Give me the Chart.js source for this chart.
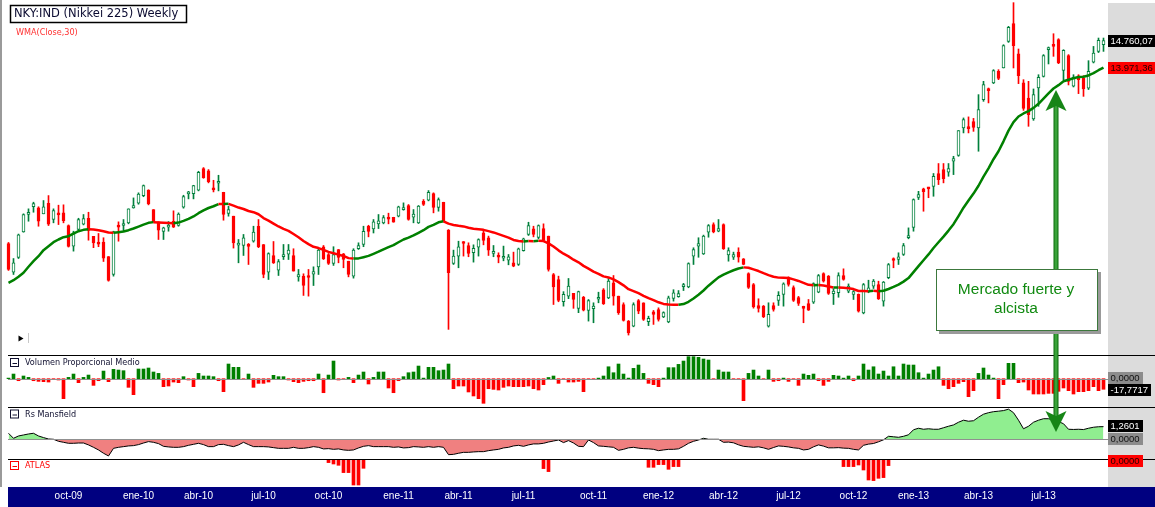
<!DOCTYPE html>
<html>
<head>
<meta charset="utf-8">
<script src="https://cdn.jsdelivr.net/npm/chart.js@4.4.0/dist/chart.umd.min.js"></script>
<style>
  html, body { margin: 0; padding: 0; background: #fff; overflow: hidden; }
  #wrap { position: relative; width: 1155px; height: 507px; }
</style>
</head>
<body>
<div id="wrap"><canvas id="myChart" width="1155" height="507"></canvas></div>
<script>
// Nikkei 225 weekly candles, Jul 2009 - Sep 2013
const opens = [
  9790, 9237, 9515, 10024, 10381, 10545, 10522, 10396, 10621, 10276,
  10409, 10416, 10152, 9738, 10070, 10179, 10303, 9930, 9796, 9816,
  9534, 9194, 10158, 10152, 10208, 10522, 10621, 10787, 10910, 10486,
  10228, 10030, 10118, 10241, 10152, 10536, 10825, 10829, 10904, 11393,
  11339, 10934, 11059, 10860, 10402, 10346, 9756, 9750, 9750, 9835,
  10138, 9770, 9237, 9555, 9276, 9534, 9582, 9555, 9150, 9163,
  9160, 9200, 9338, 9726, 9574, 9401, 9672, 9587, 9445, 9163,
  9686, 9770, 10138, 10084, 10187, 10208, 10317, 10324, 10346, 10486,
  10572, 10324, 10208, 10664, 10686, 10832, 10529, 10643, 10057, 9401,
  9543, 9809, 9750, 9607, 9719, 10003, 9904, 9594, 9555, 9502,
  9464, 9414, 9382, 9646, 9970, 10084, 9910, 10090, 9937, 9194,
  9101, 8700, 8801, 8850, 8585, 8780, 8548, 8578, 8745, 8915,
  8770, 9040, 8800, 8652, 8366, 8280, 8723, 8682, 8355, 8525,
  8565, 8435, 8350, 8760, 8790, 8970, 8965, 9543, 9738, 9587,
  10017, 10172, 10036, 10172, 9565, 9522, 9620, 9489, 9213, 9010,
  8635, 8623, 8282, 8635, 8723, 8830, 9115, 8955, 8775, 8605,
  8670, 8694, 8870, 9213, 9163, 8845, 8860, 9175, 8890, 8830,
  8830, 8505, 8890, 8980, 9010, 8711, 9133, 9489, 9477, 9574,
  9904, 10111, 10745, 10934, 10955, 10990, 11278, 11370, 11308, 11563,
  11700, 12370, 12385, 12530, 12370, 13100, 13385, 13550, 13872, 13967,
  14740, 15277, 14376, 13550, 13144, 12598, 13413, 13732, 14494, 14622,
  14790, 13900, 14320, 13460, 13750, 13687, 13406, 14130, 14444, 14643
];
const highs = [
  9810, 9496, 9978, 10396, 10501, 10643, 10545, 10679, 10787, 10501,
  10579, 10587, 10165, 10036, 10303, 10381, 10429, 9930, 9990, 9904,
  9534, 10036, 10228, 10276, 10501, 10736, 10847, 11021, 10915, 10486,
  10228, 10118, 10234, 10459, 10416, 10794, 10880, 11014, 11331, 11416,
  11370, 11126, 11240, 10860, 10558, 10346, 9869, 9970, 9790, 10138,
  10276, 9770, 9607, 9829, 9477, 9770, 9770, 9686, 9288, 9207,
  9288, 9338, 9686, 9750, 9594, 9726, 9672, 9594, 9445, 9686,
  9803, 10138, 10158, 10276, 10381, 10360, 10409, 10324, 10558, 10629,
  10593, 10486, 10572, 10700, 10897, 10847, 10736, 10643, 10070, 9659,
  9835, 9829, 9803, 9763, 9883, 10057, 9937, 9750, 9607, 9738,
  9574, 9620, 9699, 9896, 10220, 10138, 10165, 10187, 9937, 9213,
  9163, 8880, 9120, 8850, 8890, 8795, 8740, 8682, 8870, 8935,
  9120, 9175, 8800, 8682, 8377, 8682, 8740, 8682, 8450, 8548,
  8594, 8525, 8800, 8915, 8900, 9030, 9414, 9705, 9904, 9957,
  10172, 10208, 10276, 10187, 9705, 9620, 9705, 9496, 9226, 9028,
  8753, 8635, 8682, 8682, 8880, 9040, 9150, 8985, 8795, 8623,
  8740, 9040, 9194, 9226, 9175, 8932, 9226, 9300, 9020, 8900,
  8840, 9028, 9088, 9101, 9070, 9065, 9401, 9509, 9607, 9790,
  10104, 10715, 10880, 10950, 10970, 11280, 11510, 11510, 11510, 11680,
  12303, 12623, 12650, 12612, 13233, 13594, 13412, 13919, 13919, 14641,
  15195, 15942, 14514, 13640, 13594, 13386, 13778, 14350, 14573, 14970,
  14820, 14494, 14350, 13778, 13778, 13750, 14175, 14590, 14840, 14840
];
const lows = [
  9270, 9194, 9496, 10016, 10241, 10429, 10138, 10396, 10152, 10208,
  10172, 10208, 9719, 9639, 10057, 10165, 9855, 9707, 9726, 9439,
  9070, 9163, 9835, 10036, 10187, 10515, 10600, 10762, 10586, 10220,
  9869, 9869, 10036, 10111, 10138, 10515, 10715, 10715, 10890, 11171,
  11068, 10867, 10890, 10262, 10346, 9699, 9414, 9555, 9382, 9816,
  9707, 9133, 9101, 9401, 9175, 9477, 9477, 9257, 9070, 8812,
  8800, 8991, 9194, 9477, 9382, 9364, 9414, 9320, 9150, 9126,
  9672, 9726, 9922, 10000, 10090, 10187, 10187, 10220, 10331, 10472,
  10262, 10208, 10194, 10572, 10672, 10416, 10451, 10241, 8227, 9382,
  9320, 9543, 9530, 9427, 9543, 9763, 9555, 9530, 9414, 9452,
  9376, 9339, 9364, 9639, 9950, 9922, 9883, 9829, 9257, 8652,
  8700, 8623, 8755, 8585, 8510, 8540, 8366, 8338, 8682, 8652,
  8755, 8640, 8480, 8366, 8133, 8270, 8492, 8377, 8290, 8310,
  8366, 8425, 8338, 8711, 8780, 8900, 8950, 9382, 9520, 9574,
  9915, 10003, 10024, 9672, 9445, 9477, 9427, 9376, 8937, 8588,
  8520, 8425, 8265, 8536, 8635, 8623, 8980, 8705, 8635, 8338,
  8548, 8670, 8860, 9053, 8830, 8652, 8780, 9088, 8860, 8740,
  8520, 8490, 8860, 8937, 8740, 8623, 9115, 9320, 9382, 9555,
  9883, 10036, 10700, 10450, 10740, 10772, 11030, 11068, 11217, 11255,
  11680, 12246, 12246, 12285, 11800, 13055, 13013, 13532, 13640, 13967,
  14710, 13967, 13531, 12818, 12411, 12562, 12924, 13713, 14081, 14300,
  14089, 13640, 13495, 13440, 13260, 13187, 13370, 14110, 14410, 14444
];
const closes = [
  9288, 9414, 9963, 10381, 10429, 10615, 10241, 10545, 10179, 10465,
  10375, 10250, 9732, 10003, 10276, 10296, 10050, 9803, 9776, 9502,
  9083, 10024, 10118, 10165, 10501, 10572, 10817, 11006, 10608, 10228,
  10057, 10104, 10138, 10118, 10388, 10764, 10847, 11006, 11309, 11187,
  11097, 10912, 11082, 10381, 10486, 9803, 9776, 9904, 9732, 10017,
  9726, 9194, 9594, 9414, 9439, 9555, 9659, 9257, 9194, 8991,
  9138, 9250, 9659, 9489, 9401, 9574, 9515, 9477, 9194, 9659,
  9750, 10036, 10030, 10228, 10248, 10317, 10283, 10220, 10545, 10515,
  10276, 10388, 10558, 10593, 10860, 10529, 10700, 10241, 9226, 9543,
  9726, 9790, 9594, 9692, 9869, 9849, 9659, 9633, 9522, 9515,
  9528, 9351, 9686, 9883, 10152, 9970, 10152, 9849, 9288, 8967,
  8723, 8830, 8980, 8740, 8880, 8555, 8723, 8623, 8770, 8665,
  9070, 8800, 8510, 8377, 8170, 8652, 8536, 8394, 8411, 8480,
  8394, 8510, 8770, 8860, 8845, 8990, 9400, 9672, 9790, 9937,
  10152, 10024, 10090, 9686, 9652, 9574, 9522, 9382, 8955, 8611,
  8583, 8440, 8480, 8565, 8815, 9020, 9010, 8723, 8670, 8583,
  8553, 9028, 9175, 9070, 8850, 8890, 9175, 9101, 8980, 8880,
  8536, 9010, 8950, 9070, 8750, 9053, 9382, 9458, 9528, 9750,
  9950, 10700, 10810, 10875, 10934, 11215, 11141, 11164, 11393, 11626,
  12303, 12580, 12353, 12385, 12837, 13504, 13340, 13891, 13677, 14612,
  15165, 14612, 13751, 12870, 12708, 13233, 13704, 14320, 14532, 14593,
  14111, 14474, 13594, 13713, 13640, 13386, 13872, 14395, 14770, 14760.07
];
// WMA(Close,30) values before a full 30-week window exists
const wmaHead = [
  9041, 9088, 9151, 9226, 9339, 9445, 9541, 9658, 9736, 9815,
  9869, 9915, 9935, 9989, 10036, 10064, 10077, 10070, 10057, 10036,
  10010, 10003, 10016, 10030, 10057, 10091, 10131, 10172, 10208
];
const volumeAvg = [
  1.0, 7.8, -3.4, 4.5, 2.2, -3.4, -4.5, -5.0, -5.6, -1.1,
  -2.2, -33.5, 2.2, 7.8, -6.7, 2.2, 6.1, -11.2, -3.4, 12.8,
  -5.0, 15.7, 14.5, 13.4, -14.5, -26.8, 16.2, 16.2, 17.9, 11.2,
  8.9, -13.4, -12.3, -5.6, -6.7, 3.4, -2.2, -13.4, 8.9, 4.5,
  4.5, 3.4, -3.4, -21.8, 24.6, 19.0, 19.0, -1.1, 7.8, -14.5,
  -7.8, -7.8, -5.6, 5.6, 3.4, 3.4, -2.2, -5.0, -6.7, -4.5,
  -3.4, -3.4, 7.8, -23.5, 6.1, 29.6, -2.2, -1.0, 2.2, -6.7,
  6.1, 11.2, -8.9, 2.2, 11.2, 11.2, -15.6, -23.5, -3.4, 3.4,
  10.0, 11.2, 21.2, 1.0, 19.0, 19.0, 13.4, 14.5, 24.6, -16.8,
  -12.3, -12.3, -22.3, -29.0, -33.5, -41.3, -16.8, -17.9, -19.0, -14.5,
  -12.3, -13.4, -13.4, -13.4, -12.3, -16.8, -19.0, -10.0, 2.0, 4.5,
  -7.8, -1.0, -5.6, -5.6, -4.5, -21.8, -1.0, -1.0, 1.0, 4.5,
  20.0, 10.0, 24.6, 7.8, 1.0, 17.3, 22.9, 8.9, -7.8, -10.0,
  -13.4, 1.0, 18.5, 18.5, 24.0, 29.6, 36.9, 36.9, 35.8, 33.0,
  31.3, -1.1, 14.5, 11.2, 11.2, -1.0, -1.0, -36.9, 8.9, 14.5,
  4.5, -1.0, 14.5, -4.5, -3.4, 1.0, -4.5, -1.0, -11.2, 7.8,
  5.6, 7.8, -3.4, -11.2, -4.5, 5.6, 4.5, 1.0, 4.5, -3.4,
  4.5, 24.6, 14.5, 20.0, 7.8, 12.8, 4.5, 20.0, 4.5, 24.6,
  22.9, 22.9, 10.0, 1.0, 7.8, 14.5, 20.0, -11.2, -16.8, -13.4,
  -7.8, -5.0, -30.2, -20.1, 8.9, 17.9, 6.1, 1.0, -33.5, -10.0,
  25.7, 25.7, -6.7, -5.6, -19.0, -25.7, -25.7, -25.7, -24.6, -24.6,
  -21.2, -15.6, -20.1, -25.7, -21.8, -21.8, -20.1, -13.4, -20.1, -17.7717
];
const rsMansfield = [
  0.6, 0.1, 0.33, 0.43, 0.53, 0.6, 0.33, 0.17, 0.03, 0,
  -0.2, -0.3, -0.4, -0.4, -0.37, -0.37, -0.56, -0.8, -1.06, -1.39,
  -1.66, -0.9, -0.8, -0.73, -0.66, -0.63, -0.53, -0.37, -0.23, -0.3,
  -0.43, -0.7, -0.76, -0.8, -0.8, -0.73, -0.6, -0.5, -0.4, -0.53,
  -0.73, -0.73, -0.53, -0.5, -0.63, -0.73, -0.56, -0.3, -0.53, -0.73,
  -0.73, -0.73, -0.76, -0.83, -0.9, -0.9, -0.9, -0.8, -0.9, -0.9,
  -0.83, -0.73, -0.8, -0.96, -0.93, -1.0, -0.96, -1.06, -1.1, -1.06,
  -0.86, -0.7, -0.63, -0.73, -0.73, -0.73, -0.73, -0.8, -0.76, -0.86,
  -0.83, -0.73, -0.76, -0.8, -0.73, -0.8, -0.73, -0.8, -1.53, -1.5,
  -1.39, -1.3, -1.3, -1.26, -1.23, -1.23, -1.13, -1.06, -1.0, -0.86,
  -0.8, -0.66, -0.6, -0.7, -0.56, -0.46, -0.46, -0.4, -0.27, -0.17,
  -0.07, -0.33, -0.13, -0.37, -0.7, -0.73, -0.07, -0.33, -0.66, -0.7,
  -0.75, -0.8, -1.1, -1.0, -0.85, -0.8, -0.88, -0.93, -0.95, -1.0,
  -1.13, -1.06, -1.0, -1.0, -0.95, -0.7, -0.4, -0.2, -0.07, 0.1,
  0, 0, 0, -0.3, -0.28, -0.35, -0.55, -0.7, -0.75, -0.8,
  -0.75, -0.85, -1.0, -0.82, -0.66, -0.7, -0.76, -0.85, -0.9, -1.06,
  -1.0, -0.75, -0.56, -0.68, -0.85, -0.85, -0.83, -0.88, -0.9, -1.0,
  -1.06, -0.6, -0.48, -0.42, -0.25, -0.05, 0.3, 0.25, 0.2, 0.3,
  0.45, 0.95, 1.1, 1.0, 1.05, 1.0, 1.0, 1.15, 1.3, 1.43,
  1.7, 1.9, 1.8, 1.85, 2.2, 2.5, 2.65, 2.75, 2.8, 2.86,
  3.0, 2.65, 1.9, 1.05, 1.3, 1.7, 1.9, 2.05, 2.05, 1.95,
  1.76, 1.55, 1.0, 0.98, 1.0, 0.97, 1.1, 1.2, 1.25, 1.2601
];
// ATLAS only has a value on a few weeks
const atlasWeeks = [64, 65, 66, 67, 68, 69, 70, 71, 107, 108,
  128, 129, 130, 131, 132, 133, 134,
  167, 168, 169, 170, 171, 172, 173, 174, 175, 176];
const atlasValues = [-0.33, -0.47, -0.6, -1.33, -1.33, -2.57, -2.57, -0.9, -0.93, -1.23,
  -0.8, -0.8, -0.53, -0.53, -1.0, -0.73, -0.73,
  -0.73, -0.73, -0.73, -0.57, -1.07, -2.07, -2.13, -1.9, -1.83, -0.63];

const tickWeeks = [12, 26, 38, 51, 64, 78, 90, 103, 117, 130, 143, 156, 169, 181, 194, 207];
const tickLabels = ['oct-09', 'ene-10', 'abr-10', 'jul-10', 'oct-10', 'ene-11', 'abr-11', 'jul-11',
  'oct-11', 'ene-12', 'abr-12', 'jul-12', 'oct-12', 'ene-13', 'abr-13', 'jul-13'];

const priceTags = ['14.760,07', '13.971,36'];
const volTags = ['0,0000', '-17,7717'];
const rsTags = ['1,2601', '0,0000'];
const atlasTag = '0,0000';

const weeks = closes.map((c, i) => {
  const d = new Date(Date.UTC(2009, 6, 10 + 7 * i));
  return d.toISOString().slice(0, 10);
});

// weighted moving average of the closes, 30 weeks
const wma = closes.map((c, i) => {
  if (i < wmaHead.length) return wmaHead[i];
  let s = 0;
  for (let k = 0; k < 30; k++) s += closes[i - 29 + k] * (k + 1);
  return s / 465;
});

const atlasFull = closes.map(() => null);
atlasWeeks.forEach((w, k) => { atlasFull[w] = atlasValues[k]; });

const GREEN = '#008000';
const CANDLE_UP = '#00803c';
const RED = '#ff0000';
const isUp = closes.map((c, i) => c >= opens[i]);

Chart.defaults.font.family = '"Liberation Sans", Arial, sans-serif';

function drawTag(c, text, yc, bg, fg, fixedW) {
  c.font = '9.5px "Liberation Sans", Arial, sans-serif';
  const w = fixedW || Math.ceil(c.measureText(text).width) + 5;
  c.fillStyle = bg;
  c.fillRect(1108, Math.round(yc) - 6, w, 12);
  c.fillStyle = fg;
  c.textAlign = 'left';
  c.textBaseline = 'middle';
  c.fillText(text, 1110.5, Math.round(yc) + 0.5);
}

function drawPanelTitle(c, text, x, yc, color) {
  c.strokeStyle = color;
  c.lineWidth = 1;
  c.fillStyle = '#ffffff';
  c.fillRect(10.5, yc - 4.5, 8, 8);
  c.strokeRect(10.5, yc - 4.5, 8, 8);
  c.beginPath();
  c.moveTo(12.5, yc + 0.5);
  c.lineTo(17, yc + 0.5);
  c.stroke();
  c.font = '9px "DejaVu Sans Condensed", "DejaVu Sans", sans-serif';
  c.fillStyle = color;
  c.textAlign = 'left';
  c.textBaseline = 'middle';
  c.fillText(text, x, yc);
}

const panelDecor = {
  id: 'panelDecor',
  beforeDraw(chart) {
    const c = chart.ctx;
    c.save();
    c.fillStyle = '#ffffff';
    c.fillRect(0, 0, 1155, 507);
    c.fillStyle = '#dcdcdc';
    c.fillRect(1108, 3, 47, 484);
    c.fillStyle = '#9a9a9a';
    c.fillRect(0, 0, 2, 487);
    c.fillStyle = '#000080';
    c.fillRect(8, 487, 1147, 20);
    c.restore();
  },
  afterDatasetsDraw(chart) {
    const c = chart.ctx;
    c.save();
    c.fillStyle = '#909090';
    const yv = Math.round(chart.scales.yVol.getPixelForValue(0));
    const yr = Math.round(chart.scales.yRs.getPixelForValue(0));
    c.fillRect(8, yv, 1100, 1);
    c.fillRect(8, yr, 1100, 1);
    c.restore();
  },
  afterDraw(chart) {
    const c = chart.ctx;
    c.save();
    // panel separators
    c.fillStyle = '#000000';
    [355, 407, 459].forEach(y => c.fillRect(8, y, 1147, 1));

    // title box
    c.fillStyle = '#ffffff';
    c.fillRect(10, 5, 177, 18);
    c.strokeStyle = '#000000';
    c.lineWidth = 1.5;
    c.strokeRect(10.5, 5.5, 176, 17);
    c.font = '11.5px "DejaVu Sans", sans-serif';
    c.fillStyle = '#0a0a30';
    c.textAlign = 'left';
    c.textBaseline = 'middle';
    c.fillText('NKY:IND (Nikkei 225) Weekly', 14, 14.5);
    c.font = '9px "DejaVu Sans Condensed", "DejaVu Sans", sans-serif';
    c.fillStyle = '#ff3030';
    c.fillText('WMA(Close,30)', 16, 32.5);

    // small cursor triangle
    c.fillStyle = '#000000';
    c.beginPath();
    c.moveTo(18.5, 335.5);
    c.lineTo(23.5, 338.5);
    c.lineTo(18.5, 341.5);
    c.closePath();
    c.fill();
    c.fillStyle = '#c8c8c8';
    c.fillRect(28, 333, 1, 10);

    // panel titles
    drawPanelTitle(c, 'Volumen Proporcional Medio', 25, 363, '#101030');
    drawPanelTitle(c, 'Rs Mansfield', 25, 414.5, '#101030');
    drawPanelTitle(c, 'ATLAS', 25, 466, '#ff0000');

    // right value tags
    drawTag(c, priceTags[0], 41, '#000000', '#ffffff', 47);
    drawTag(c, priceTags[1], 68, '#ff0000', '#200000', 47);
    drawTag(c, volTags[0], 378, '#8c8c8c', '#101010');
    drawTag(c, volTags[1], 389.5, '#000000', '#ffffff');
    drawTag(c, rsTags[0], 426, '#000000', '#ffffff');
    drawTag(c, rsTags[1], 438.5, '#8c8c8c', '#101010');
    drawTag(c, atlasTag, 460.5, '#ff0000', '#200000');

    // arrow shaft
    const g = c.createLinearGradient(1053.5, 0, 1058.5, 0);
    g.addColorStop(0, '#0b6b0b');
    g.addColorStop(0.5, '#45b045');
    g.addColorStop(1, '#0b6b0b');
    c.fillStyle = g;
    c.fillRect(1053.5, 104, 5, 166);
    c.fillRect(1053.5, 330, 5, 86);
    // arrow heads
    c.fillStyle = '#168516';
    c.beginPath();
    c.moveTo(1056, 90);
    c.lineTo(1066.5, 111);
    c.lineTo(1056, 106);
    c.lineTo(1045.5, 111);
    c.closePath();
    c.fill();
    c.beginPath();
    c.moveTo(1056, 432);
    c.lineTo(1066.5, 411);
    c.lineTo(1056, 416);
    c.lineTo(1045.5, 411);
    c.closePath();
    c.fill();

    // annotation box
    c.fillStyle = '#9a9a9a';
    c.fillRect(939, 272, 162, 62);
    c.fillStyle = '#ffffff';
    c.fillRect(936, 269, 162, 62);
    c.strokeStyle = '#3c783c';
    c.lineWidth = 1;
    c.strokeRect(936.5, 269.5, 161, 61);
    c.font = '15.5px "Liberation Sans", Arial, sans-serif';
    c.fillStyle = '#118a11';
    c.textAlign = 'center';
    c.textBaseline = 'middle';
    c.fillText('Mercado fuerte y', 1016, 290);
    c.fillText('alcista', 1016, 309);
    c.restore();
  }
};

const ctx = document.getElementById('myChart');
new Chart(ctx, {
  data: {
    labels: weeks,
    datasets: [
      {
        type: 'line',
        label: 'WMA(Close,30)',
        data: wma,
        yAxisID: 'yMain',
        borderWidth: 2.5,
        pointRadius: 0,
        borderJoinStyle: 'round',
        segment: {
          borderColor: s => (s.p1.parsed.y >= s.p0.parsed.y ? GREEN : RED)
        },
        order: 0
      },
      {
        type: 'bar',
        label: 'body',
        data: opens.map((o, i) => [o, closes[i]]),
        yAxisID: 'yMain',
        backgroundColor: isUp.map(u => (u ? '#ffffff' : RED)),
        borderColor: isUp.map(u => (u ? CANDLE_UP : RED)),
        borderWidth: 1,
        borderSkipped: false,
        barThickness: 3,
        minBarLength: 2,
        grouped: false,
        order: 1
      },
      {
        type: 'bar',
        label: 'wick',
        data: lows.map((l, i) => [l, highs[i]]),
        yAxisID: 'yMain',
        backgroundColor: isUp.map(u => (u ? CANDLE_UP : RED)),
        barThickness: 1,
        grouped: false,
        order: 2
      },
      {
        type: 'bar',
        label: 'Volumen Proporcional Medio',
        data: volumeAvg,
        yAxisID: 'yVol',
        backgroundColor: volumeAvg.map(v => (v >= 0 ? GREEN : RED)),
        barThickness: 3,
        grouped: false,
        order: 3
      },
      {
        type: 'line',
        label: 'Rs Mansfield',
        data: rsMansfield,
        yAxisID: 'yRs',
        borderColor: '#000000',
        borderWidth: 1,
        pointRadius: 0,
        fill: { target: 'origin', above: '#90ee90', below: '#f08080' },
        order: 4
      },
      {
        type: 'bar',
        label: 'ATLAS',
        data: atlasFull,
        yAxisID: 'yAtlas',
        backgroundColor: RED,
        barThickness: 3,
        grouped: false,
        order: 5
      }
    ]
  },
  options: {
    responsive: false,
    animation: false,
    layout: { padding: { left: 6, right: 49, top: 0, bottom: 0 } },
    plugins: { legend: { display: false }, tooltip: { enabled: false } },
    scales: {
      x: {
        type: 'category',
        offset: true,
        grid: { display: false, drawTicks: false },
        border: { display: false },
        ticks: {
          autoSkip: false,
          maxRotation: 0,
          minRotation: 0,
          padding: 3,
          color: '#ffffff',
          font: { size: 10 },
          callback: (v, i) => {
            const k = tickWeeks.indexOf(i);
            return k < 0 ? '' : tickLabels[k];
          }
        },
        afterFit: s => { s.height = 20; }
      },
      yMain: { type: 'logarithmic', display: false, bounds: 'data', min: 5979, max: 16028 },
      yVol: { type: 'linear', display: false, bounds: 'data', min: -181.6, max: 634.9 },
      yRs: { type: 'linear', display: false, bounds: 'data', min: -4.751, max: 43.75 },
      yAtlas: { type: 'linear', display: false, bounds: 'data', min: -2.77, max: 45.93 }
    }
  },
  plugins: [panelDecor]
});
</script>
</body>
</html>
